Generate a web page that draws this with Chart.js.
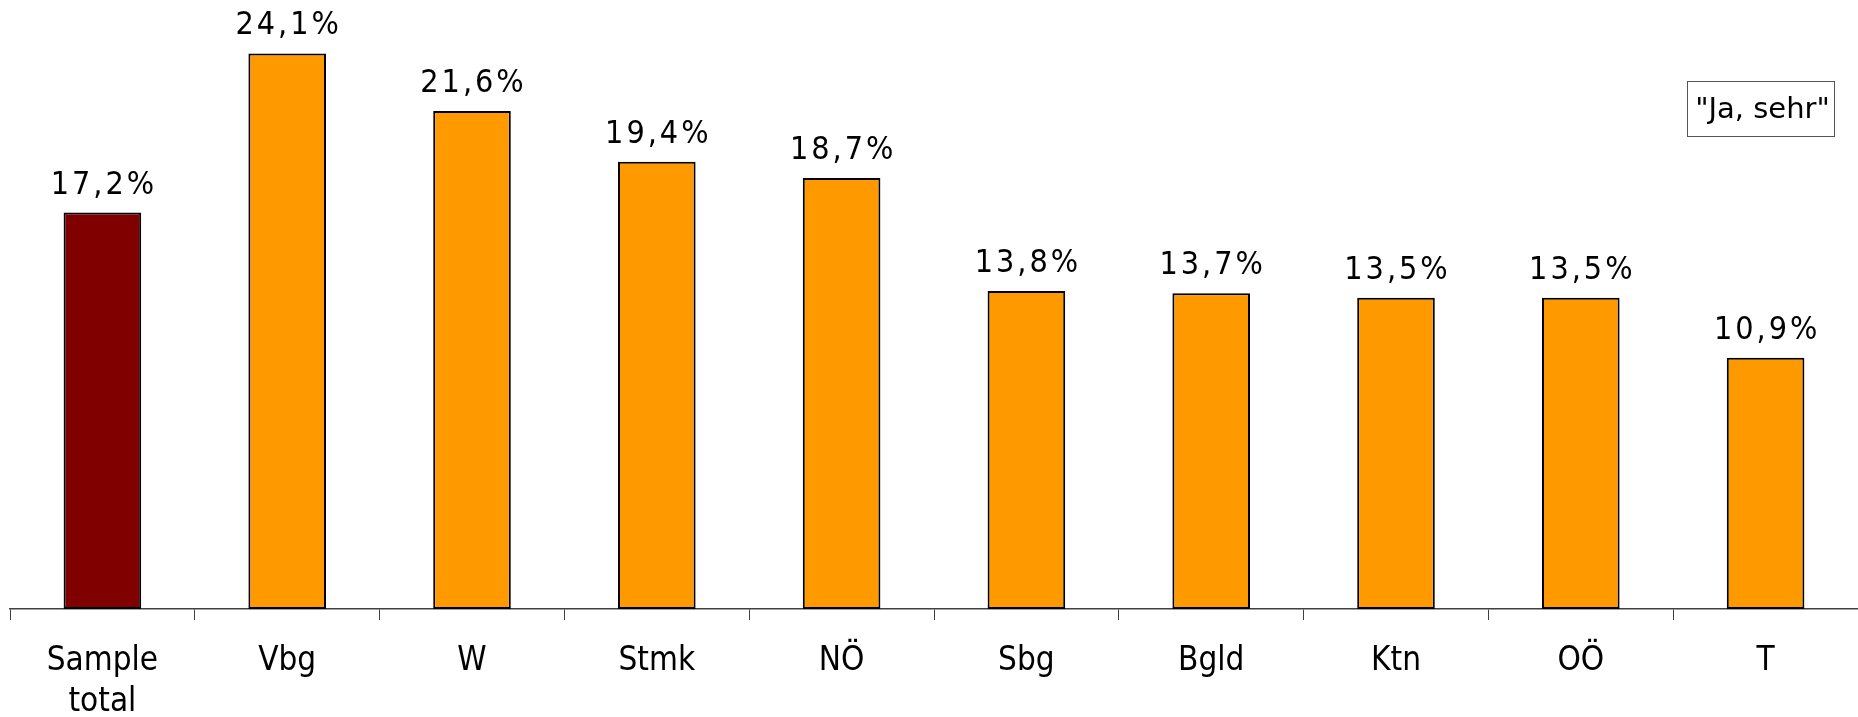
<!DOCTYPE html>
<html>
<head>
<meta charset="utf-8">
<script src="https://cdn.jsdelivr.net/npm/chart.js@4.4.1/dist/chart.umd.min.js"></script>
<style>
  html, body { margin:0; padding:0; background:#fff; }
  #wrap { width:1858px; height:717px; position:relative; }
</style>
</head>
<body>
<div id="wrap"><canvas id="c"></canvas></div>
<script>
const categories = [['Sample', 'total'], 'Vbg', 'W', 'Stmk', 'NÖ', 'Sbg', 'Bgld', 'Ktn', 'OÖ', 'T'];
const values = [17.2, 24.1, 21.6, 19.4, 18.7, 13.8, 13.7, 13.5, 13.5, 10.9];
const barColors = ['#800000', '#FF9900', '#FF9900', '#FF9900', '#FF9900', '#FF9900', '#FF9900', '#FF9900', '#FF9900', '#FF9900'];
const legendText = '"Ja, sehr"';

const FONT = "'DejaVu Sans Condensed', 'Liberation Sans', sans-serif";
const FONT_LEG = "'DejaVu Sans', Verdana, sans-serif";

// value labels above bars
const valueLabels = {
  id: 'valueLabels',
  afterDatasetsDraw(chart) {
    const ctx = chart.ctx;
    const meta = chart.getDatasetMeta(0);
    ctx.save();
    ctx.font = '32px ' + FONT;
    ctx.letterSpacing = '3px';
    ctx.fillStyle = '#000';
    ctx.textAlign = 'center';
    ctx.textBaseline = 'alphabetic';
    meta.data.forEach((bar, i) => {
      const txt = values[i].toFixed(1).replace('.', ',') + '%';
      ctx.fillText(txt, bar.x + 1.5, bar.y - 19);
    });
    ctx.restore();
  }
};

// boxed series label, top right
const boxLegend = {
  id: 'boxLegend',
  afterDraw(chart) {
    const ctx = chart.ctx, a = chart.chartArea;
    const w = 147, h = 55;
    const x = a.right - 24 - w, y = 81;
    ctx.save();
    ctx.fillStyle = '#fff';
    ctx.fillRect(x, y, w, h);
    ctx.strokeStyle = '#555';
    ctx.lineWidth = 1;
    ctx.strokeRect(x + 0.5, y + 0.5, w, h);
    ctx.font = '29px ' + FONT_LEG;
    ctx.fillStyle = '#000';
    ctx.textAlign = 'center';
    ctx.textBaseline = 'alphabetic';
    ctx.fillText(legendText, x + w / 2 + 2, y + 37);
    ctx.restore();
  }
};

new Chart(document.getElementById('c'), {
  type: 'bar',
  data: {
    labels: categories,
    datasets: [{
      data: values,
      backgroundColor: barColors,
      borderColor: '#000',
      borderWidth: 2,
      borderSkipped: false,
      categoryPercentage: 1,
      barPercentage: 0.42,
    }]
  },
  options: {
    responsive: true, maintainAspectRatio: false, animation: false,
    layout: { padding: { left: 10, right: 0, top: 0, bottom: 0 } },
    plugins: { legend: { display: false }, tooltip: { enabled: false } },
    scales: {
      x: {
        offset: true,
        border: { display: true, color: '#404040', width: 1.5 },
        grid: { display: true, drawOnChartArea: false, drawTicks: true, tickLength: 11, color: '#404040', offset: true },
        ticks: { color: '#000', font: { family: FONT, size: 33, lineHeight: 1.25 }, padding: 21, maxRotation: 0, autoSkip: false },
        afterFit: s => { s.height = 108; }
      },
      y: { display: false, min: 0, max: 26.42 }
    }
  },
  plugins: [valueLabels, boxLegend]
});
</script>
</body>
</html>
